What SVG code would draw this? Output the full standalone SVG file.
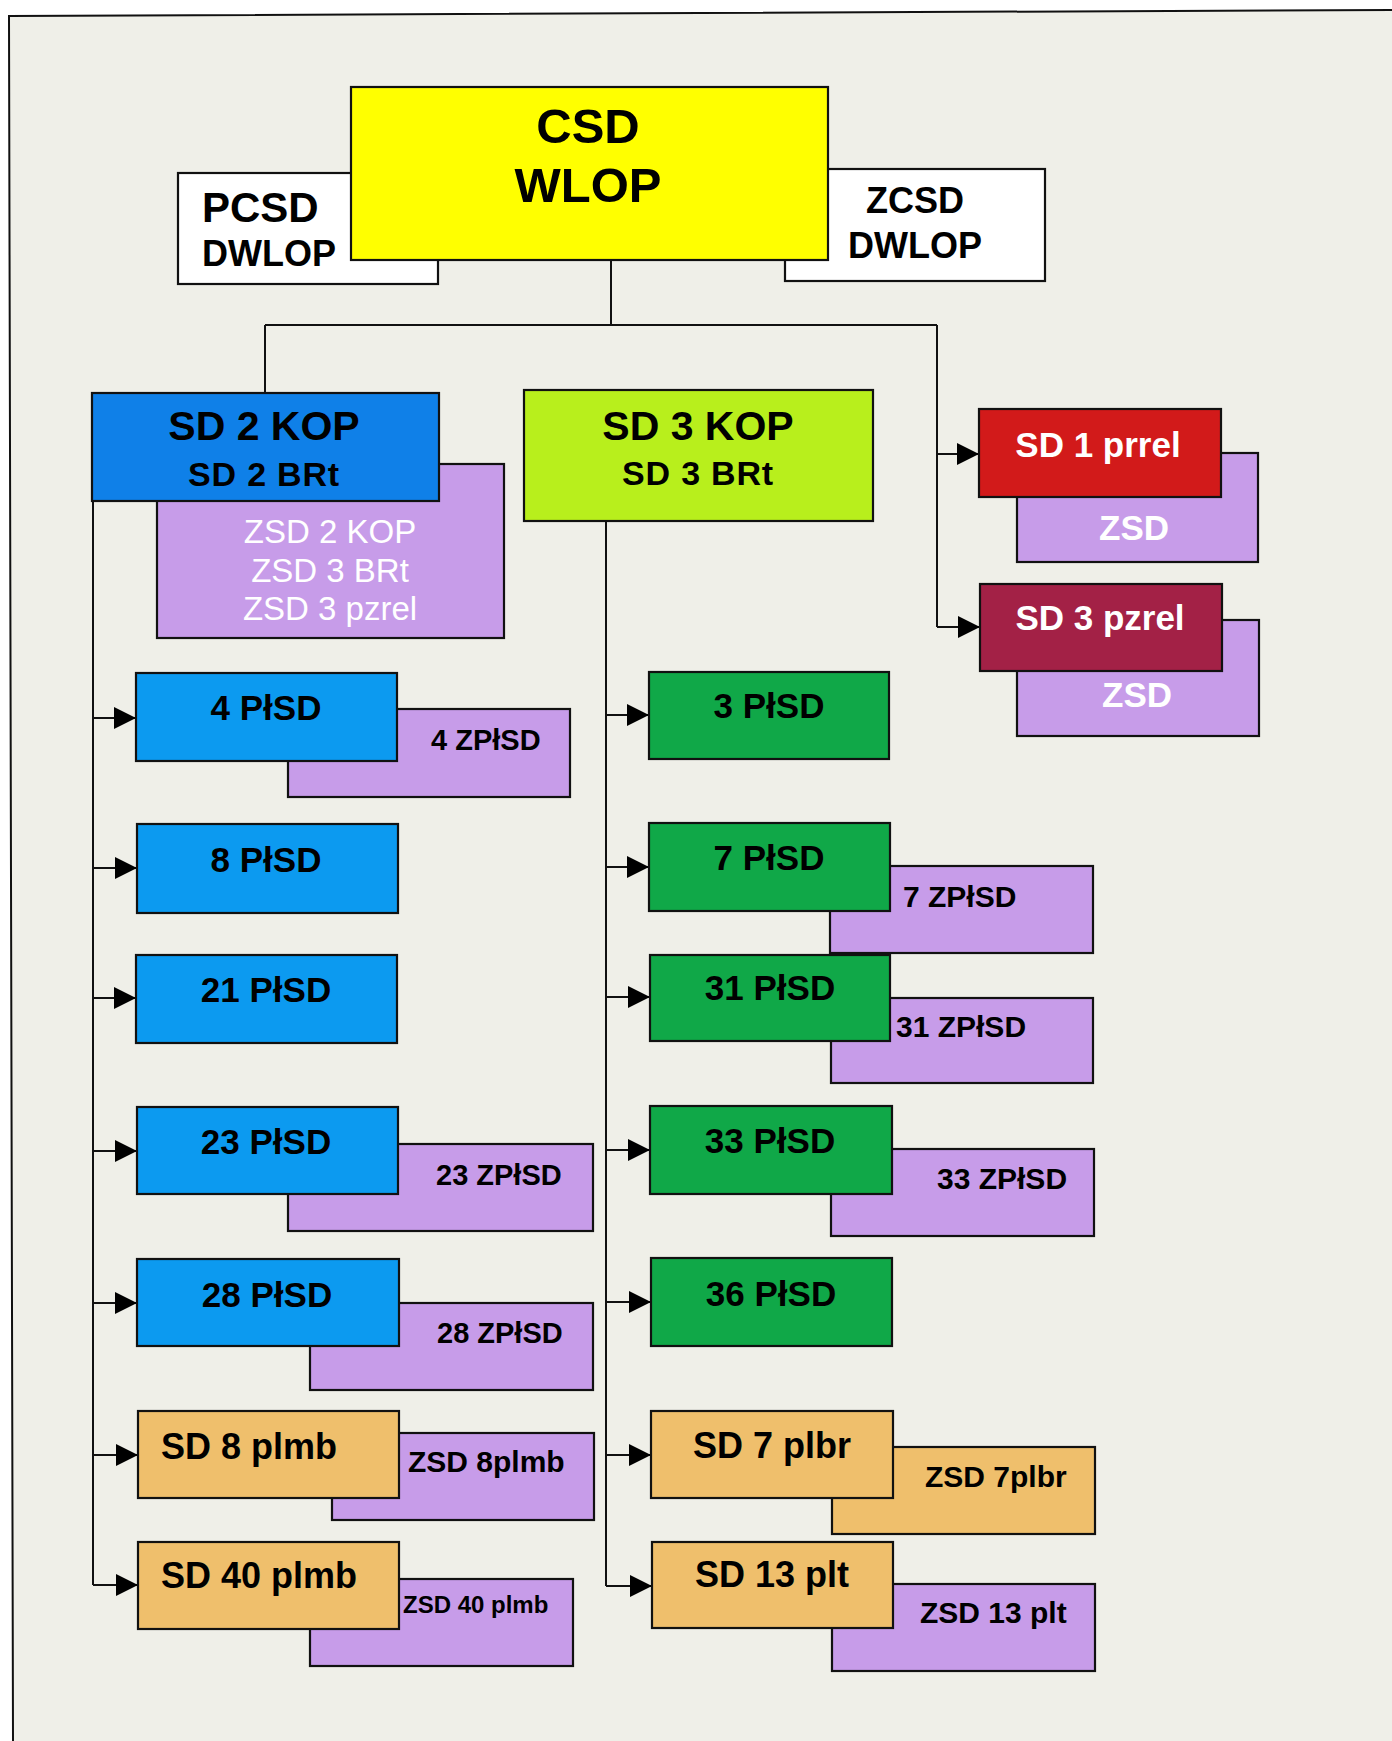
<svg xmlns="http://www.w3.org/2000/svg" width="1392" height="1741" viewBox="0 0 1392 1741">
<defs>
<style>
.b{stroke:#111;stroke-width:2.2}
.t{font-family:"Liberation Sans",Arial,sans-serif;font-weight:bold;fill:#000}
.w{fill:#fff}
.r{font-weight:normal}
.m{text-anchor:middle}
.c{fill:none;stroke:#111;stroke-width:2}
.yel{fill:#ffff00}
.wht{fill:#ffffff}
.blu{fill:#0f80e8}
.pl{fill:#0c9af0}
.chr{fill:#b8ef1c}
.grn{fill:#10a848}
.red{fill:#d21a1a}
.crm{fill:#a32146}
.pur{fill:#c79ce9}
.org{fill:#efbf6c}
</style>
<marker id="ah" markerUnits="userSpaceOnUse" markerWidth="22" markerHeight="22" refX="22" refY="11" orient="auto">
<path d="M0,0 L22,11 L0,22 z" fill="#000"/>
</marker>
</defs>
<rect x="0" y="0" width="1392" height="1741" fill="#ffffff"/>
<polygon points="9,16 1392,10 1392,1741 13,1741" fill="#efefe8"/>
<polyline points="13,1741 9,16 1392,10" fill="none" stroke="#111" stroke-width="2"/>

<g id="connectors">
<path class="c" d="M611,260 V325 M265,325 H937 M265,325 V393 M937,325 V627"/>
<path class="c" d="M937,454 H979" marker-end="url(#ah)"/>
<path class="c" d="M937,627 H980" marker-end="url(#ah)"/>
<path class="c" d="M93,501 V1585"/>
<path class="c" d="M93,718 H136" marker-end="url(#ah)"/>
<path class="c" d="M93,868 H137" marker-end="url(#ah)"/>
<path class="c" d="M93,998 H136" marker-end="url(#ah)"/>
<path class="c" d="M93,1151 H137" marker-end="url(#ah)"/>
<path class="c" d="M93,1303 H137" marker-end="url(#ah)"/>
<path class="c" d="M93,1455 H138" marker-end="url(#ah)"/>
<path class="c" d="M93,1585 H138" marker-end="url(#ah)"/>
<path class="c" d="M606,521 V1586"/>
<path class="c" d="M606,715 H649" marker-end="url(#ah)"/>
<path class="c" d="M606,867 H649" marker-end="url(#ah)"/>
<path class="c" d="M606,997 H650" marker-end="url(#ah)"/>
<path class="c" d="M606,1150 H650" marker-end="url(#ah)"/>
<path class="c" d="M606,1302 H651" marker-end="url(#ah)"/>
<path class="c" d="M606,1455 H651" marker-end="url(#ah)"/>
<path class="c" d="M606,1586 H652" marker-end="url(#ah)"/>
</g>

<g id="pcsd">
<rect class="b wht" x="178" y="173" width="260" height="111"/>
<text class="t" x="202" y="222" font-size="42">PCSD</text>
<text class="t" x="202" y="266" font-size="36">DWLOP</text>
</g>
<g id="zcsd">
<rect class="b wht" x="785" y="169" width="260" height="112"/>
<text class="t m" x="915" y="213" font-size="36">ZCSD</text>
<text class="t m" x="915" y="258" font-size="36">DWLOP</text>
</g>
<g id="csd">
<rect class="b yel" x="351" y="87" width="477" height="173"/>
<text class="t m" x="588" y="143" font-size="49">CSD</text>
<text class="t m" x="588" y="202" font-size="49">WLOP</text>
</g>

<g id="zsd2kop">
<rect class="b pur" x="157" y="464" width="347" height="174"/>
<text class="t w r m" x="330" y="543" font-size="33">ZSD 2 KOP</text>
<text class="t w r m" x="330" y="582" font-size="33">ZSD 3 BRt</text>
<text class="t w r m" x="330" y="620" font-size="33">ZSD 3 pzrel</text>
</g>
<g id="sd2kop">
<rect class="b blu" x="92" y="393" width="347" height="108"/>
<text class="t m" x="264" y="440" font-size="41">SD 2 KOP</text>
<text class="t m" x="264" y="486" font-size="34" letter-spacing="0.8">SD 2 BRt</text>
</g>
<g id="sd3kop">
<rect class="b chr" x="524" y="390" width="349" height="131"/>
<text class="t m" x="698" y="440" font-size="41">SD 3 KOP</text>
<text class="t m" x="698" y="485" font-size="34" letter-spacing="0.8">SD 3 BRt</text>
</g>

<g id="zsd1">
<rect class="b pur" x="1017" y="453" width="241" height="109"/>
<text class="t w m" x="1134" y="540" font-size="35">ZSD</text>
</g>
<g id="sd1prrel">
<rect class="b red" x="979" y="409" width="242" height="88"/>
<text class="t w m" x="1098" y="457" font-size="35">SD 1 prrel</text>
</g>
<g id="zsd3">
<rect class="b pur" x="1017" y="620" width="242" height="116"/>
<text class="t w m" x="1137" y="707" font-size="35">ZSD</text>
</g>
<g id="sd3pzrel">
<rect class="b crm" x="980" y="584" width="242" height="87"/>
<text class="t w m" x="1100" y="630" font-size="35">SD 3 pzrel</text>
</g>

<g id="z4">
<rect class="b pur" x="288" y="709" width="282" height="88"/>
<text class="t" x="431" y="750" font-size="29">4 ZPłSD</text>
</g>
<g id="p4">
<rect class="b pl" x="136" y="673" width="261" height="88"/>
<text class="t m" x="266" y="720" font-size="35">4 PłSD</text>
</g>
<g id="p8">
<rect class="b pl" x="137" y="824" width="261" height="89"/>
<text class="t m" x="266" y="872" font-size="35">8 PłSD</text>
</g>
<g id="p21">
<rect class="b pl" x="136" y="955" width="261" height="88"/>
<text class="t m" x="266" y="1002" font-size="35">21 PłSD</text>
</g>
<g id="z23">
<rect class="b pur" x="288" y="1144" width="305" height="87"/>
<text class="t" x="436" y="1185" font-size="29">23 ZPłSD</text>
</g>
<g id="p23">
<rect class="b pl" x="137" y="1107" width="261" height="87"/>
<text class="t m" x="266" y="1154" font-size="35">23 PłSD</text>
</g>
<g id="z28">
<rect class="b pur" x="310" y="1303" width="283" height="87"/>
<text class="t" x="437" y="1343" font-size="29">28 ZPłSD</text>
</g>
<g id="p28">
<rect class="b pl" x="137" y="1259" width="262" height="87"/>
<text class="t m" x="267" y="1307" font-size="35">28 PłSD</text>
</g>
<g id="z8plmb">
<rect class="b pur" x="332" y="1433" width="262" height="87"/>
<text class="t" x="408" y="1472" font-size="30">ZSD 8plmb</text>
</g>
<g id="sd8plmb">
<rect class="b org" x="138" y="1411" width="261" height="87"/>
<text class="t" x="161" y="1459" font-size="36">SD 8 plmb</text>
</g>
<g id="z40plmb">
<rect class="b pur" x="310" y="1579" width="263" height="87"/>
<text class="t" x="403" y="1613" font-size="24">ZSD 40 plmb</text>
</g>
<g id="sd40plmb">
<rect class="b org" x="138" y="1542" width="261" height="87"/>
<text class="t" x="161" y="1588" font-size="36">SD 40 plmb</text>
</g>

<g id="p3">
<rect class="b grn" x="649" y="672" width="240" height="87"/>
<text class="t m" x="769" y="718" font-size="35">3 PłSD</text>
</g>
<g id="z7">
<rect class="b pur" x="830" y="866" width="263" height="87"/>
<text class="t" x="903" y="907" font-size="30">7 ZPłSD</text>
</g>
<g id="p7">
<rect class="b grn" x="649" y="823" width="241" height="88"/>
<text class="t m" x="769" y="870" font-size="35">7 PłSD</text>
</g>
<g id="z31">
<rect class="b pur" x="831" y="998" width="262" height="85"/>
<text class="t" x="896" y="1037" font-size="30">31 ZPłSD</text>
</g>
<g id="p31">
<rect class="b grn" x="650" y="955" width="240" height="86"/>
<text class="t m" x="770" y="1000" font-size="35">31 PłSD</text>
</g>
<g id="z33">
<rect class="b pur" x="831" y="1149" width="263" height="87"/>
<text class="t" x="937" y="1189" font-size="30">33 ZPłSD</text>
</g>
<g id="p33">
<rect class="b grn" x="650" y="1106" width="242" height="88"/>
<text class="t m" x="770" y="1153" font-size="35">33 PłSD</text>
</g>
<g id="p36">
<rect class="b grn" x="651" y="1258" width="241" height="88"/>
<text class="t m" x="771" y="1306" font-size="35">36 PłSD</text>
</g>
<g id="z7plbr">
<rect class="b org" x="832" y="1447" width="263" height="87"/>
<text class="t" x="925" y="1487" font-size="30">ZSD 7plbr</text>
</g>
<g id="sd7plbr">
<rect class="b org" x="651" y="1411" width="242" height="87"/>
<text class="t m" x="772" y="1458" font-size="36">SD 7 plbr</text>
</g>
<g id="z13plt">
<rect class="b pur" x="832" y="1584" width="263" height="87"/>
<text class="t" x="920" y="1623" font-size="30">ZSD 13 plt</text>
</g>
<g id="sd13plt">
<rect class="b org" x="652" y="1542" width="241" height="86"/>
<text class="t m" x="772" y="1587" font-size="36">SD 13 plt</text>
</g>
</svg>
